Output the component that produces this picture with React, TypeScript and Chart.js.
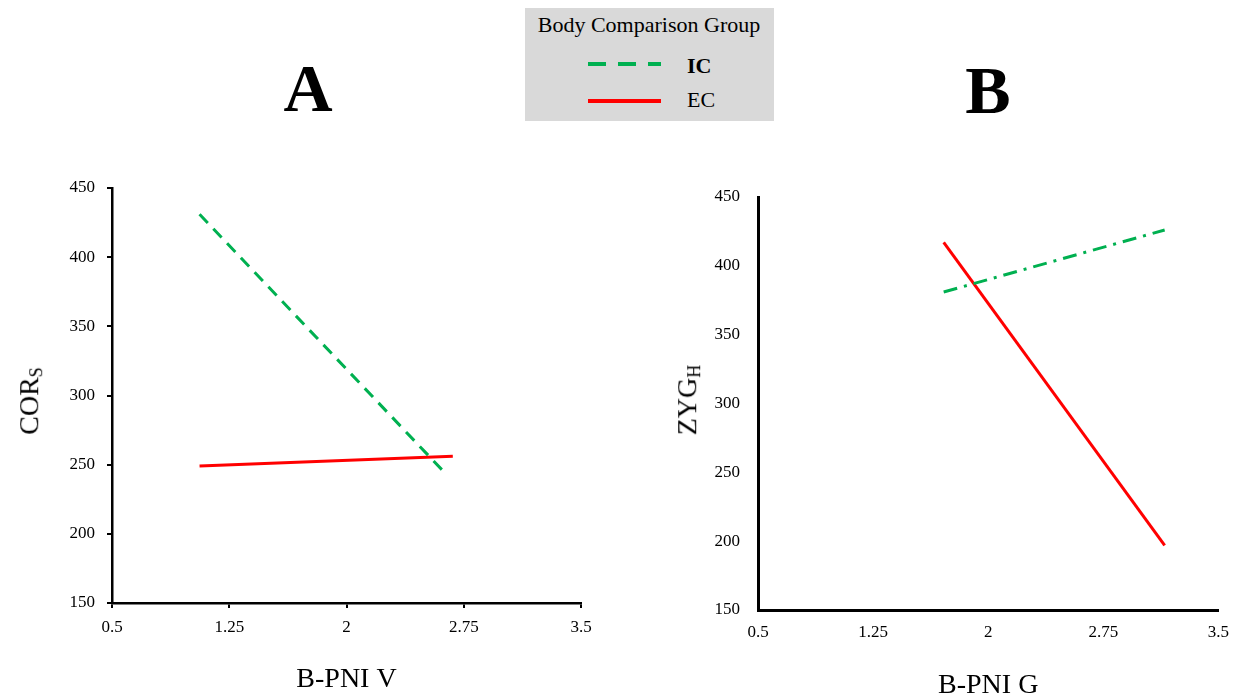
import React, { useEffect, useRef } from "react";
import { Chart, registerables } from "chart.js";
Chart.register(...registerables);

// ---- data ----
const xTicks = [0.5, 1.25, 2, 2.75, 3.5];
const yTicks = [150, 200, 250, 300, 350, 400, 450];
const seriesNames = ["IC", "EC"];
const legendTitle = "Body Comparison Group";

const aIcX = [1.06, 2.63];
const aIcY = [431, 244];
const aEcX = [1.06, 2.68];
const aEcY = [249, 256];

const bIcX = [1.71, 3.15];
const bIcY = [381, 426];
const bEcX = [1.71, 3.15];
const bEcY = [417, 197];

const FONT = "'Liberation Serif', 'Times New Roman', serif";
const GREEN = "#00B050";
const RED = "#FF0000";

type PanelProps = {
  icX: number[]; icY: number[]; ecX: number[]; ecY: number[];
  icDash: number[];
  xTitle: string;
  width: number; height: number;
  padding: { top: number; right: number; left: number; bottom: number };
  yAxisWidth: number; xAxisHeight: number;
  showTicks: boolean; axisWidth: number;
  xTickPad: number; yTickPad: number; xTitlePadBottom: number;
};

function Panel(p: PanelProps) {
  const ref = useRef<HTMLCanvasElement | null>(null);
  useEffect(() => {
    if (!ref.current) return;
    const grid = p.showTicks
      ? { display: true, drawOnChartArea: false, drawTicks: true, tickLength: 5, color: "#000", lineWidth: 2 }
      : { display: false, drawTicks: false, tickLength: 0 };
    const chart = new Chart(ref.current, {
      type: "line",
      data: {
        datasets: [
          {
            label: seriesNames[0],
            data: p.icX.map((x, i) => ({ x, y: p.icY[i] })),
            borderColor: GREEN,
            borderWidth: 3,
            borderDash: p.icDash,
            pointRadius: 0,
            fill: false,
            tension: 0,
          },
          {
            label: seriesNames[1],
            data: p.ecX.map((x, i) => ({ x, y: p.ecY[i] })),
            borderColor: RED,
            borderWidth: 3,
            pointRadius: 0,
            fill: false,
            tension: 0,
          },
        ],
      },
      options: {
        responsive: false,
        animation: false,
        devicePixelRatio: 1,
        layout: { padding: p.padding },
        plugins: { legend: { display: false }, tooltip: { enabled: false } },
        scales: {
          x: {
            type: "linear",
            min: xTicks[0],
            max: xTicks[xTicks.length - 1],
            afterBuildTicks: (s: any) => { s.ticks = xTicks.map((v) => ({ value: v })); },
            afterFit: (s: any) => { s.height = p.xAxisHeight; },
            grid: grid as any,
            border: { display: true, color: "#000", width: p.axisWidth },
            ticks: {
              color: "#000",
              font: { family: FONT, size: 17 },
              padding: p.xTickPad,
              maxRotation: 0,
              autoSkip: false,
              callback: (v: any) => String(v),
            },
            title: {
              display: true,
              text: p.xTitle,
              color: "#000",
              font: { family: FONT, size: 28, lineHeight: 1 },
              padding: { top: 0, bottom: p.xTitlePadBottom },
            },
          },
          y: {
            type: "linear",
            min: yTicks[0],
            max: yTicks[yTicks.length - 1],
            afterBuildTicks: (s: any) => { s.ticks = yTicks.map((v) => ({ value: v })); },
            afterFit: (s: any) => { s.width = p.yAxisWidth; },
            grid: grid as any,
            border: { display: true, color: "#000", width: p.axisWidth },
            ticks: {
              color: "#000",
              font: { family: FONT, size: 17 },
              padding: p.yTickPad,
              autoSkip: false,
              callback: (v: any) => String(v),
            },
          },
        },
      } as any,
    });
    return () => chart.destroy();
  }, []);
  return <canvas ref={ref} width={p.width} height={p.height} style={{ width: p.width, height: p.height, display: "block" }} />;
}

export default function App() {
  useEffect(() => {
    document.body.style.margin = "0";
  }, []);
  const txt: React.CSSProperties = { position: "absolute", fontFamily: FONT, color: "#000", whiteSpace: "nowrap", lineHeight: 1 };
  return (
    <div style={{ position: "relative", width: 1241, height: 700, background: "#fff", overflow: "hidden" }}>
      {/* Legend */}
      <div style={{ position: "absolute", left: 525, top: 8, width: 249, height: 113, background: "#d9d9d9" }} />
      <div style={{ ...txt, left: 649, top: 25, fontSize: 22, transform: "translate(-50%,-50%)" }}>{legendTitle}</div>
      <svg style={{ position: "absolute", left: 0, top: 0 }} width={1241} height={130}>
        <line x1={588} y1={64} x2={661} y2={64} stroke={GREEN} strokeWidth={4} strokeDasharray="18 12" />
        <line x1={588} y1={101} x2={661} y2={101} stroke={RED} strokeWidth={4} />
      </svg>
      <div style={{ ...txt, left: 687, top: 66, fontSize: 22, fontWeight: "bold", transform: "translate(0,-50%)" }}>{seriesNames[0]}</div>
      <div style={{ ...txt, left: 687, top: 100, fontSize: 22, transform: "translate(0,-50%)" }}>{seriesNames[1]}</div>

      {/* Panel letters */}
      <div style={{ ...txt, left: 308, top: 88, fontSize: 68, fontWeight: "bold", transform: "translate(-50%,-50%)" }}>A</div>
      <div style={{ ...txt, left: 988, top: 90, fontSize: 68, fontWeight: "bold", transform: "translate(-50%,-50%)" }}>B</div>

      {/* Panel A */}
      <div style={{ position: "absolute", left: 0, top: 140 }}>
        <Panel
          icX={aIcX} icY={aIcY} ecX={aEcX} ecY={aEcY}
          icDash={[12, 8]}
          xTitle="B-PNI V"
          width={620} height={560}
          padding={{ top: 48, right: 39, left: 0, bottom: 0 }}
          yAxisWidth={112} xAxisHeight={97}
          showTicks={true} axisWidth={2.5}
          xTickPad={9} yTickPad={12} xTitlePadBottom={6}
        />
      </div>
      <div style={{ ...txt, left: 30, top: 401, fontSize: 28, transform: "translate(-50%,-50%) rotate(-90deg)" }}>
        COR<sub style={{ fontSize: 18, verticalAlign: "-0.2em" }}>S</sub>
      </div>

      {/* Panel B */}
      <div style={{ position: "absolute", left: 630, top: 140 }}>
        <Panel
          icX={bIcX} icY={bIcY} ecX={bEcX} ecY={bEcY}
          icDash={[14, 7, 3, 7]}
          xTitle="B-PNI G"
          width={611} height={560}
          padding={{ top: 57, right: 13, left: 0, bottom: 0 }}
          yAxisWidth={128} xAxisHeight={90}
          showTicks={false} axisWidth={3}
          xTickPad={12} yTickPad={18} xTitlePadBottom={0}
        />
      </div>
      <div style={{ ...txt, left: 688, top: 400, fontSize: 28, transform: "translate(-50%,-50%) rotate(-90deg)" }}>
        ZYG<sub style={{ fontSize: 18, verticalAlign: "-0.2em" }}>H</sub>
      </div>
    </div>
  );
}
